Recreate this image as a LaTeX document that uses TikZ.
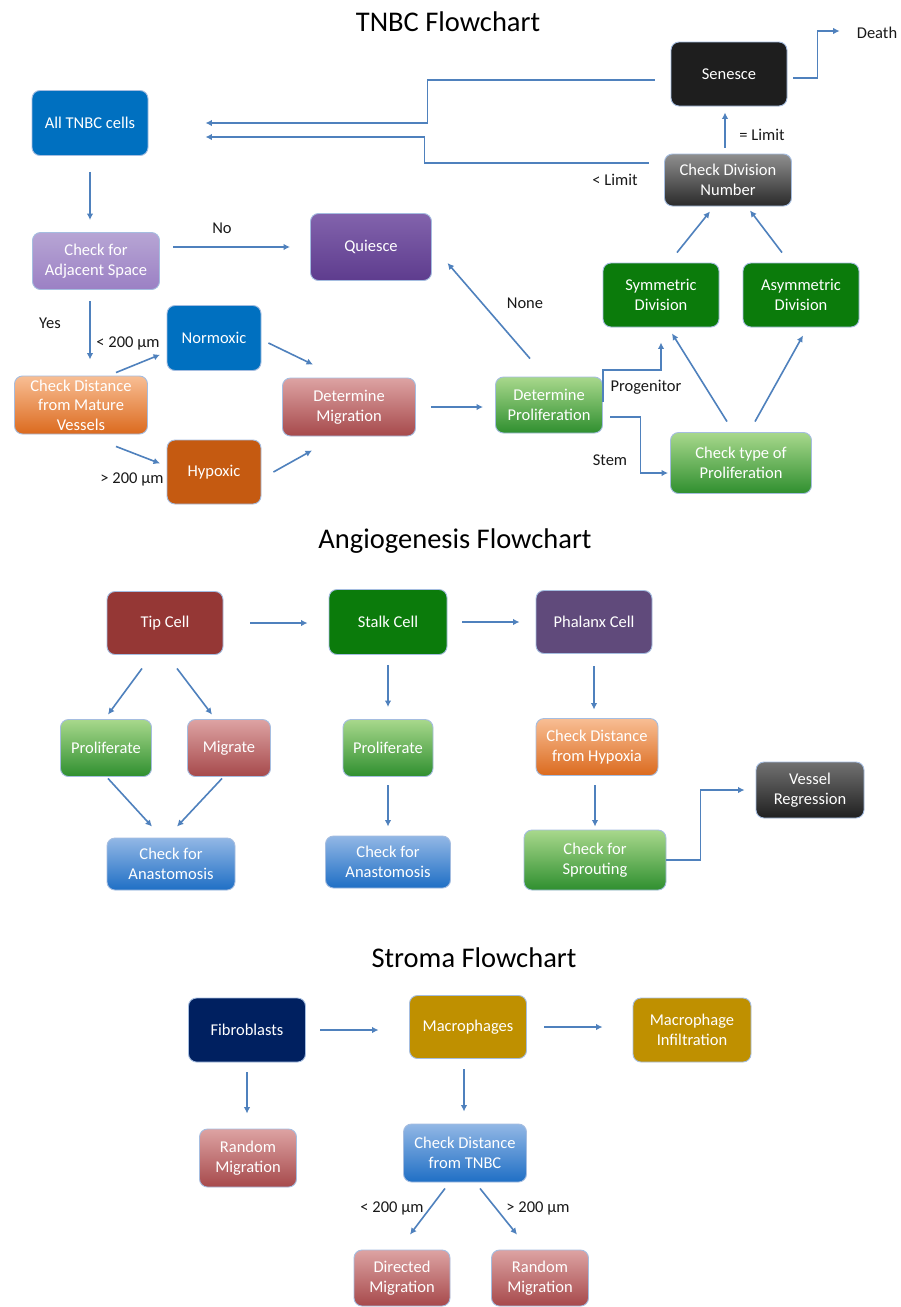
\documentclass[tikz,border=0pt]{standalone}
\usepackage{fontspec}
\setmainfont{Carlito}
\usetikzlibrary{arrows.meta,calc}
\definecolor{arrowc}{HTML}{4F81BD}
\definecolor{boxline}{HTML}{A5BDE0}
\definecolor{cblue}{HTML}{0070C0}
\definecolor{cblack}{HTML}{1E1E1E}
\definecolor{cdgreen}{HTML}{0B7B0B}
\definecolor{chyp}{HTML}{C55A11}
\definecolor{ctip}{HTML}{953735}
\definecolor{cphal}{HTML}{604A7B}
\definecolor{cnavy}{HTML}{002060}
\definecolor{cgold}{HTML}{BF9000}
\definecolor{lavT}{HTML}{B7A5D4}\definecolor{lavB}{HTML}{9B80C4}
\definecolor{quiT}{HTML}{8263AC}\definecolor{quiB}{HTML}{5E3C8E}
\definecolor{gryT}{HTML}{8F8F8F}\definecolor{gryB}{HTML}{2A2A2A}
\definecolor{orT}{HTML}{F8BE94}\definecolor{orB}{HTML}{DB6A1E}
\definecolor{roT}{HTML}{DDA3A3}\definecolor{roB}{HTML}{A6494B}
\definecolor{grT}{HTML}{A8D88C}\definecolor{grB}{HTML}{2F8F2F}
\definecolor{blT}{HTML}{92B7E5}\definecolor{blB}{HTML}{1F6FC5}
\definecolor{vgT}{HTML}{717171}\definecolor{vgB}{HTML}{202020}
\begin{document}
\begin{tikzpicture}[x=1pt,y=-1pt,
  box/.style={rounded corners=8pt, draw=boxline, line width=0.9pt, text=white, align=center,
    font=\fontsize{16.5}{19.5}\selectfont, inner sep=1pt},
  gLav/.style={top color=lavT, bottom color=lavB},
  gQui/.style={top color=quiT, bottom color=quiB},
  gGry/.style={top color=gryT, bottom color=gryB},
  gOr/.style={top color=orT, bottom color=orB},
  gRo/.style={top color=roT, bottom color=roB},
  gGr/.style={top color=grT, bottom color=grB},
  gBl/.style={top color=blT, bottom color=blB},
  gVg/.style={top color=vgT, bottom color=vgB},
  arr/.style={draw=arrowc, line width=1.6pt, -{Latex[length=6.5pt,width=6.5pt]}},
  lbl/.style={font=\fontsize{16.5}{19}\selectfont, text=black!90, inner sep=0pt},
  ttl/.style={font=\fontsize{28.5}{31}\selectfont, inner sep=0pt}]
\useasboundingbox[fill=white] (0,0) rectangle (900,1307);

% ---------------- TNBC ----------------
\node[ttl] (t1) at (448,22) {TNBC Flowchart};
\node[box, fill=cblue, minimum width=116pt, minimum height=65pt] (allc) at (90,123) {All TNBC cells};
\node[box, gLav, minimum width=127pt, minimum height=57pt] (adj) at (96,261) {Check for\\Adjacent Space};
\node[box, gQui, minimum width=121pt, minimum height=67pt] (quie) at (371,247) {Quiesce};
\node[box, fill=cblack, minimum width=116pt, minimum height=64pt] (sen) at (729,74) {Senesce};
\node[lbl] (death) at (877,33) {Death};
\node[box, gGry, minimum width=127pt, minimum height=52pt] (cdn) at (728,180) {Check Division\\Number};
\node[box, fill=cdgreen, minimum width=116pt, minimum height=64pt] (sym) at (661,295) {Symmetric\\Division};
\node[box, fill=cdgreen, minimum width=116pt, minimum height=64pt] (asym) at (801,295) {Asymmetric\\Division};
\node[box, fill=cblue, minimum width=94pt, minimum height=65pt] (norm) at (214,338) {Normoxic};
\node[box, gOr, minimum width=133pt, minimum height=58pt, inner sep=0pt] (cdist) at (81,405) {Check Distance\\from Mature\\Vessels};
\node[box, fill=chyp, minimum width=94pt, minimum height=64pt] (hyp) at (214,472) {Hypoxic};
\node[box, gRo, minimum width=133pt, minimum height=58pt] (dmig) at (349,407) {Determine\\Migration};
\node[box, gGr, minimum width=107pt, minimum height=56pt] (dpro) at (549,405) {Determine\\Proliferation};
\node[box, gGr, minimum width=141pt, minimum height=61pt] (ctp) at (741,463) {Check type of\\Proliferation};

\draw[arr, shorten <=16pt, shorten >=12pt] (allc.south) -- ([xshift=-6pt]adj.north);
\draw[arr, shorten <=13.5pt, shorten >=20pt] ([yshift=14pt]adj.east) -- (quie.west);
\node[lbl] (lno) at (222,228) {No};
\draw[arr, shorten <=11.5pt, shorten >=16pt] ([xshift=-6pt]adj.south) -- ([xshift=9pt]cdist.north);
\node[lbl] (lyes) at (50,323) {Yes};
\draw[arr, shorten >=7pt] ([xshift=35pt,yshift=3pt]cdist.north) -- ([yshift=-14pt]norm.west);
\node[lbl] (llt1) at (128,343) {< 200 µm};
\draw[arr, shorten >=7pt] ([xshift=35pt,yshift=-12pt]cdist.south) -- ([yshift=6pt]hyp.west);
\node[lbl] (lgt1) at (132,479) {> 200 µm};
\draw[arr] ([xshift=7pt,yshift=-5pt]norm.east) -- ([xshift=-36pt,yshift=13pt]dmig.north);
\draw[arr] ([xshift=12pt]hyp.east) -- ([xshift=-37pt,yshift=-14pt]dmig.south);
\draw[arr, shorten <=15pt, shorten >=12pt] (dmig.east) -- (dmig.east -| dpro.west);
\draw[arr] ([xshift=-19pt,yshift=18pt]dpro.north) -- ([xshift=15.5pt,yshift=-16pt]quie.east);
\node[lbl] (lnone) at (525,303) {None};
\draw[arr] ([yshift=3pt]dpro.east) -- ++(0,-32) -| ([yshift=-15pt]sym.south);
\node[lbl] (lprog) at (646,387) {Progenitor};
\draw[arr, shorten >=2pt] ([xshift=7.5pt,yshift=-12pt]dpro.east) -- ++(30,0) |- ([yshift=-10pt]ctp.west);
\node[lbl] (lstem) at (610,460) {Stem};
\draw[arr] ([xshift=-14pt,yshift=10.5pt]ctp.north) -- ([xshift=11pt,yshift=-6pt]sym.south);
\draw[arr] ([xshift=14pt,yshift=10.5pt]ctp.north) -- ([xshift=2pt,yshift=-8pt]asym.south);
\draw[arr] ([xshift=16pt,yshift=10pt]sym.north) -- ([xshift=-18pt,yshift=-5pt]cdn.south);
\draw[arr] ([xshift=-19pt,yshift=10pt]asym.north) -- ([xshift=22pt,yshift=-4pt]cdn.south);
\draw[arr] ([xshift=-3pt,yshift=6pt]cdn.north) -- ([xshift=-4pt,yshift=-6pt]sen.south);
\node[lbl] (leq) at (762,135) {= Limit};
\draw[arr] ([xshift=-15.5pt,yshift=17pt]cdn.west) -- ++(-224,0) |- ([xshift=57pt,yshift=-14pt]allc.east);
\node[lbl] (lltl) at (615,180) {< Limit};
\draw[arr] ([xshift=-16pt,yshift=-6pt]sen.west) -- ++(-227,0) |- ([xshift=57pt]allc.east);
\draw[arr, shorten >=17pt] ([xshift=6pt,yshift=-4pt]sen.east) -- ++(24,0) |- ([yshift=2pt]death.west);

% ---------------- Angiogenesis ----------------
\node[ttl] (t2) at (455,541) {Angiogenesis Flowchart};
\node[box, fill=ctip, minimum width=116pt, minimum height=63pt] (tip) at (165,623) {Tip Cell};
\node[box, fill=cdgreen, minimum width=118pt, minimum height=65pt] (stalk) at (388,622) {Stalk Cell};
\node[box, fill=cphal, minimum width=116pt, minimum height=63pt] (phal) at (594,622) {Phalanx Cell};
\node[box, gGr, minimum width=91pt, minimum height=57pt] (prol1) at (106,748) {Proliferate};
\node[box, gRo, minimum width=83pt, minimum height=57pt] (migr) at (229,748) {Migrate};
\node[box, gBl, minimum width=128pt, minimum height=52pt] (anas1) at (171,864) {Check for\\Anastomosis};
\node[box, gGr, minimum width=90pt, minimum height=57pt] (prol2) at (388,748) {Proliferate};
\node[box, gBl, minimum width=125pt, minimum height=52pt] (anas2) at (388,862) {Check for\\Anastomosis};
\node[box, gOr, minimum width=122pt, minimum height=57pt] (cdh) at (597,747) {Check Distance\\from Hypoxia};
\node[box, gGr, minimum width=142pt, minimum height=60pt] (spr) at (595,860) {Check for\\Sprouting};
\node[box, gVg, minimum width=108pt, minimum height=56pt] (vreg) at (810,790) {Vessel\\Regression};

\draw[arr, shorten <=27pt, shorten >=21pt] (tip.east) -- (tip.east -| stalk.west);
\draw[arr, shorten <=15pt, shorten >=16pt] (stalk.east) -- (stalk.east -| phal.west);
\draw[arr] ([xshift=-23pt,yshift=-13.5pt]tip.south) -- ([xshift=2pt,yshift=4.5pt]prol1.north);
\draw[arr] ([xshift=12pt,yshift=-13.5pt]tip.south) -- ([xshift=-17pt,yshift=4.5pt]migr.north);
\draw[arr] ([xshift=2pt,yshift=-1.5pt]prol1.south) -- ([xshift=-19pt,yshift=11pt]anas1.north);
\draw[arr] ([xshift=-7pt,yshift=-1.5pt]migr.south) -- ([xshift=6pt,yshift=11pt]anas1.north);
\draw[arr, shorten <=10pt, shorten >=12pt] (stalk.south) -- (prol2.north);
\draw[arr, shorten <=8.5pt, shorten >=9pt] (prol2.south) -- (anas2.north);
\draw[arr, shorten <=12.5pt, shorten >=8.5pt] (phal.south) -- (phal.south |- cdh.north);
\draw[arr, shorten <=9.5pt, shorten >=3pt] (cdh.south -| spr.north) -- (spr.north);
\draw[arr, shorten >=11pt] (spr.east) -- ++(34,0) |- (vreg.west);

% ---------------- Stroma ----------------
\node[ttl] (t3) at (474,958) {Stroma Flowchart};
\node[box, fill=cnavy, minimum width=117pt, minimum height=64pt] (fib) at (247,1030) {Fibroblasts};
\node[box, fill=cgold, minimum width=117pt, minimum height=63pt] (mac) at (468,1027) {Macrophages};
\node[box, fill=cgold, minimum width=118pt, minimum height=64pt] (minf) at (692,1030) {Macrophage\\Infiltration};
\node[box, gRo, minimum width=97pt, minimum height=58pt] (rm1) at (248,1158) {Random\\Migration};
\node[box, gBl, minimum width=123pt, minimum height=58pt] (cdt) at (465,1153) {Check Distance\\from TNBC};
\node[box, gRo, minimum width=96pt, minimum height=56pt] (dm) at (402,1278) {Directed\\Migration};
\node[box, gRo, minimum width=97pt, minimum height=56pt] (rm2) at (540,1278) {Random\\Migration};

\draw[arr, shorten <=14.5pt, shorten >=30.5pt] (fib.east) -- (fib.east -| mac.west);
\draw[arr, shorten <=17.5pt, shorten >=30pt] (mac.east) -- (mac.east -| minf.west);
\draw[arr, shorten <=10pt, shorten >=15pt] (fib.south) -- (fib.south |- rm1.north);
\draw[arr, shorten <=10.5pt, shorten >=12pt] ([xshift=-4pt]mac.south) -- ([xshift=-1pt]cdt.north);
\draw[arr] ([xshift=-20pt,yshift=-6pt]cdt.south) -- ([xshift=8pt,yshift=15pt]dm.north);
\node[lbl] (llt2) at (392,1208) {< 200 µm};
\draw[arr] ([xshift=15pt,yshift=-6pt]cdt.south) -- ([xshift=-23pt,yshift=15pt]rm2.north);
\node[lbl] (lgt2) at (538,1208) {> 200 µm};
\end{tikzpicture}
\end{document}
